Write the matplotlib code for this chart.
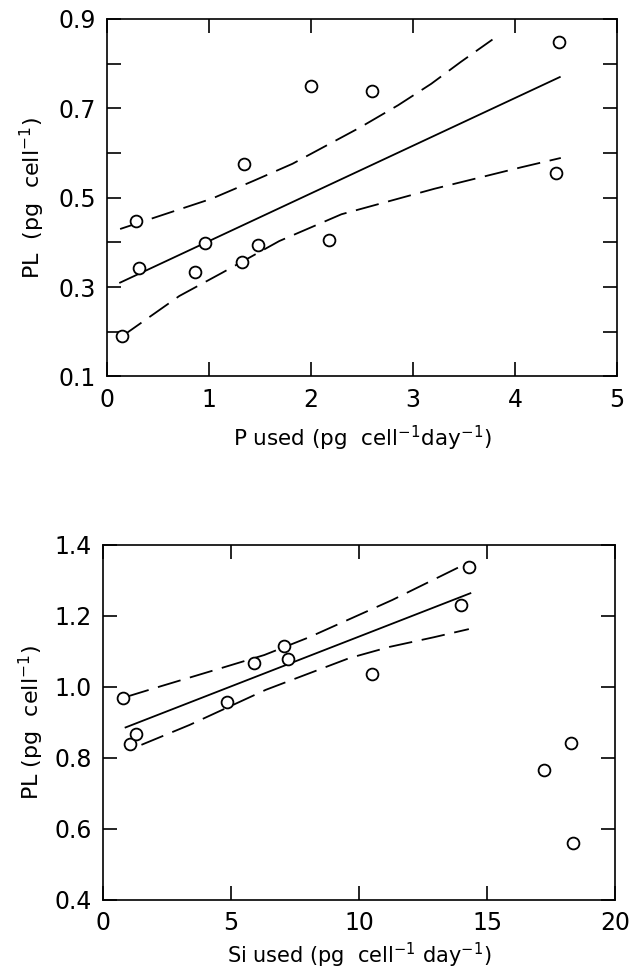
import matplotlib
matplotlib.use("Agg")
import matplotlib.pyplot as plt

plt.rcParams["font.family"] = ["DejaVu Sans"]
plt.rcParams["lines.scale_dashes"] = False

# --- top panel: PL vs P used ---
p_used = [0.15, 0.29, 0.315, 0.86, 0.96, 1.32, 1.345, 1.485, 2.0, 2.18, 2.6, 4.43, 4.40]
p_pl = [0.191, 0.448, 0.343, 0.334, 0.398, 0.356, 0.576, 0.394, 0.749, 0.406, 0.739, 0.848, 0.555]
p_fit_x = [0.13, 4.44]
p_fit_y = [0.31, 0.77]
p_up_x = [0.13, 1.03, 1.44, 1.82, 2.48, 2.855, 3.18, 3.47, 3.78]
p_up_y = [0.43, 0.498, 0.538, 0.576, 0.657, 0.707, 0.755, 0.804, 0.854]
p_lo_x = [0.15, 0.71, 1.13, 1.69, 2.30, 3.21, 4.06, 4.45]
p_lo_y = [0.19, 0.28, 0.332, 0.403, 0.463, 0.52, 0.568, 0.589]

# --- bottom panel: PL vs Si used ---
si_used = [0.78, 1.04, 1.30, 4.83, 5.88, 7.08, 7.21, 10.52, 14.0, 14.31, 17.21, 18.29, 18.34]
si_pl = [0.968, 0.839, 0.867, 0.957, 1.067, 1.114, 1.079, 1.037, 1.231, 1.339, 0.766, 0.843, 0.560]
si_fit_x = [0.88, 14.35]
si_fit_y = [0.886, 1.264]
si_up_x = [0.9, 2.21, 4.61, 6.30, 8.05, 11.3, 14.09, 14.3]
si_up_y = [0.972, 1.001, 1.053, 1.09, 1.140, 1.245, 1.344, 1.35]
si_lo_x = [1.5, 3.38, 6.36, 9.61, 11.2, 12.92, 14.29]
si_lo_y = [0.837, 0.893, 0.992, 1.081, 1.113, 1.14, 1.163]

fig = plt.figure(figsize=(6.36, 9.74), dpi=100)
ax1 = fig.add_axes([0.168, 0.6135, 0.802, 0.367])
ax2 = fig.add_axes([0.162, 0.076, 0.805, 0.3645])

lw = 1.3
dash = (17, 7)


def style_axes(ax):
    for s in ax.spines.values():
        s.set_linewidth(1.2)
    ax.tick_params(which="both", direction="in", length=10, width=1.2,
                   top=True, right=True, labelsize=17, pad=8)


def draw(ax, x, y, fx, fy, ux, uy, lx, ly):
    ax.plot(fx, fy, color="black", lw=lw)
    ax.plot(ux, uy, color="black", lw=lw, dashes=dash)
    ax.plot(lx, ly, color="black", lw=lw, dashes=dash)
    ax.plot(x, y, "o", ms=8.5, mfc="white", mec="black", mew=1.3, ls="none")


draw(ax1, p_used, p_pl, p_fit_x, p_fit_y, p_up_x, p_up_y, p_lo_x, p_lo_y)
ax1.set_xlim(0, 5)
ax1.set_ylim(0.1, 0.9)
ax1.set_xticks([0, 1, 2, 3, 4, 5])
ax1.set_yticks([0.1, 0.3, 0.5, 0.7, 0.9])
ax1.set_yticks([0.2, 0.4, 0.6, 0.8], minor=True)
ax1.set_yticklabels(["0.1", "0.3", "0.5", "0.7", "0.9"])
style_axes(ax1)
ax1.set_xlabel(r"P used (pg  cell$^{-1}$day$^{-1}$)", fontsize=15.5, labelpad=9)
ax1.set_ylabel(r"PL  (pg  cell$^{-1}$)", fontsize=16, labelpad=8)

draw(ax2, si_used, si_pl, si_fit_x, si_fit_y, si_up_x, si_up_y, si_lo_x, si_lo_y)
ax2.set_xlim(0, 20)
ax2.set_ylim(0.4, 1.4)
ax2.set_xticks([0, 5, 10, 15, 20])
ax2.set_yticks([0.4, 0.6, 0.8, 1.0, 1.2, 1.4])
ax2.set_yticklabels(["0.4", "0.6", "0.8", "1.0", "1.2", "1.4"])
style_axes(ax2)
ax2.set_xlabel(r"Si used (pg  cell$^{-1}$ day$^{-1}$)", fontsize=15, labelpad=4)
ax2.set_ylabel(r"PL (pg  cell$^{-1}$)", fontsize=16, labelpad=6)

fig.savefig("out.png", dpi=100)
